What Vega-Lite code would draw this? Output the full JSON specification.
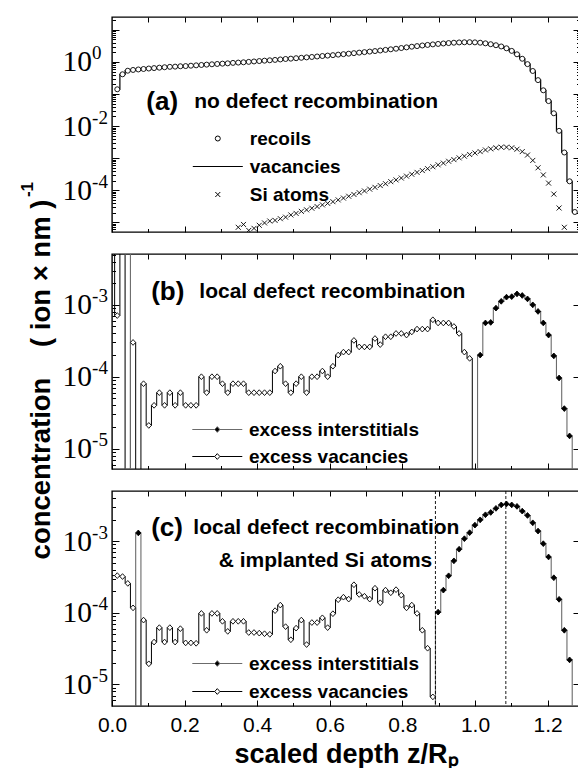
{
  "$schema": "https://vega.github.io/schema/vega-lite/v6.json",
  "background": "white",
  "padding": {"left": 18, "top": 14, "right": 0, "bottom": 0},
  "spacing": 22,
  "bounds": "flush",
  "config": {
    "view": {"stroke": "black", "strokeWidth": 1.4},
    "axis": {"domain": false, "grid": false, "tickColor": "black", "tickWidth": 1, "labelColor": "black", "titleColor": "black", "labelFlush": false, "labelOverlap": false},
    "legend": {"labelLimit": 400}
  },
  "datasets": {
    "a": [
      {"z": 0.0145, "recoils": 0.14},
      {"z": 0.0290, "recoils": 0.41},
      {"z": 0.0435, "recoils": 0.53},
      {"z": 0.0580, "recoils": 0.56},
      {"z": 0.0725, "recoils": 0.58},
      {"z": 0.0869, "recoils": 0.60},
      {"z": 0.1014, "recoils": 0.62},
      {"z": 0.1159, "recoils": 0.64},
      {"z": 0.1304, "recoils": 0.66},
      {"z": 0.1449, "recoils": 0.68},
      {"z": 0.1594, "recoils": 0.70},
      {"z": 0.1739, "recoils": 0.71},
      {"z": 0.1884, "recoils": 0.73},
      {"z": 0.2029, "recoils": 0.74},
      {"z": 0.2174, "recoils": 0.76},
      {"z": 0.2318, "recoils": 0.78},
      {"z": 0.2463, "recoils": 0.80},
      {"z": 0.2608, "recoils": 0.82},
      {"z": 0.2753, "recoils": 0.84},
      {"z": 0.2898, "recoils": 0.86},
      {"z": 0.3043, "recoils": 0.88},
      {"z": 0.3188, "recoils": 0.90},
      {"z": 0.3333, "recoils": 0.93},
      {"z": 0.3478, "recoils": 0.95, "Si atoms": 7.0e-6},
      {"z": 0.3623, "recoils": 0.97, "Si atoms": 8.6e-6},
      {"z": 0.3767, "recoils": 1.00, "Si atoms": 5.6e-6},
      {"z": 0.3912, "recoils": 1.03, "Si atoms": 6.5e-6},
      {"z": 0.4057, "recoils": 1.06, "Si atoms": 8.1e-6},
      {"z": 0.4202, "recoils": 1.09, "Si atoms": 9.6e-6},
      {"z": 0.4347, "recoils": 1.12, "Si atoms": 1.1e-5},
      {"z": 0.4492, "recoils": 1.15, "Si atoms": 1.15e-5},
      {"z": 0.4637, "recoils": 1.19, "Si atoms": 1.3e-5},
      {"z": 0.4782, "recoils": 1.23, "Si atoms": 1.45e-5},
      {"z": 0.4927, "recoils": 1.26, "Si atoms": 1.7e-5},
      {"z": 0.5072, "recoils": 1.30, "Si atoms": 1.9e-5},
      {"z": 0.5216, "recoils": 1.34, "Si atoms": 2.2e-5},
      {"z": 0.5361, "recoils": 1.38, "Si atoms": 2.45e-5},
      {"z": 0.5506, "recoils": 1.42, "Si atoms": 2.75e-5},
      {"z": 0.5651, "recoils": 1.47, "Si atoms": 3.1e-5},
      {"z": 0.5796, "recoils": 1.52, "Si atoms": 3.5e-5},
      {"z": 0.5941, "recoils": 1.57, "Si atoms": 3.9e-5},
      {"z": 0.6086, "recoils": 1.62, "Si atoms": 4.4e-5},
      {"z": 0.6231, "recoils": 1.68, "Si atoms": 5.0e-5},
      {"z": 0.6376, "recoils": 1.74, "Si atoms": 5.7e-5},
      {"z": 0.6521, "recoils": 1.80, "Si atoms": 6.5e-5},
      {"z": 0.6665, "recoils": 1.87, "Si atoms": 7.4e-5},
      {"z": 0.6810, "recoils": 1.94, "Si atoms": 8.4e-5},
      {"z": 0.6955, "recoils": 2.01, "Si atoms": 9.5e-5},
      {"z": 0.7100, "recoils": 2.09, "Si atoms": 1.08e-4},
      {"z": 0.7245, "recoils": 2.17, "Si atoms": 1.23e-4},
      {"z": 0.7390, "recoils": 2.26, "Si atoms": 1.4e-4},
      {"z": 0.7535, "recoils": 2.36, "Si atoms": 1.6e-4},
      {"z": 0.7680, "recoils": 2.46, "Si atoms": 1.85e-4},
      {"z": 0.7825, "recoils": 2.57, "Si atoms": 2.1e-4},
      {"z": 0.7970, "recoils": 2.70, "Si atoms": 2.4e-4},
      {"z": 0.8114, "recoils": 2.83, "Si atoms": 2.75e-4},
      {"z": 0.8259, "recoils": 2.97, "Si atoms": 3.15e-4},
      {"z": 0.8404, "recoils": 3.10, "Si atoms": 3.6e-4},
      {"z": 0.8549, "recoils": 3.24, "Si atoms": 4.1e-4},
      {"z": 0.8694, "recoils": 3.37, "Si atoms": 4.7e-4},
      {"z": 0.8839, "recoils": 3.50, "Si atoms": 5.4e-4},
      {"z": 0.8984, "recoils": 3.62, "Si atoms": 6.2e-4},
      {"z": 0.9129, "recoils": 3.74, "Si atoms": 7.0e-4},
      {"z": 0.9274, "recoils": 3.85, "Si atoms": 8.0e-4},
      {"z": 0.9419, "recoils": 3.95, "Si atoms": 9.0e-4},
      {"z": 0.9563, "recoils": 4.03, "Si atoms": 1.02e-3},
      {"z": 0.9708, "recoils": 4.08, "Si atoms": 1.15e-3},
      {"z": 0.9853, "recoils": 4.10, "Si atoms": 1.3e-3},
      {"z": 0.9998, "recoils": 4.05, "Si atoms": 1.45e-3},
      {"z": 1.0143, "recoils": 3.95, "Si atoms": 1.6e-3},
      {"z": 1.0288, "recoils": 3.78, "Si atoms": 1.8e-3},
      {"z": 1.0433, "recoils": 3.55, "Si atoms": 1.95e-3},
      {"z": 1.0578, "recoils": 3.30, "Si atoms": 2.1e-3},
      {"z": 1.0723, "recoils": 3.02, "Si atoms": 2.2e-3},
      {"z": 1.0868, "recoils": 2.65, "Si atoms": 2.2e-3},
      {"z": 1.1012, "recoils": 2.20, "Si atoms": 2.1e-3},
      {"z": 1.1157, "recoils": 1.72, "Si atoms": 1.9e-3},
      {"z": 1.1302, "recoils": 1.25, "Si atoms": 1.6e-3},
      {"z": 1.1447, "recoils": 0.85, "Si atoms": 1.25e-3},
      {"z": 1.1592, "recoils": 0.52, "Si atoms": 8.5e-4},
      {"z": 1.1737, "recoils": 0.27, "Si atoms": 5.0e-4},
      {"z": 1.1882, "recoils": 0.13, "Si atoms": 3.0e-4},
      {"z": 1.2027, "recoils": 0.060, "Si atoms": 1.67e-4},
      {"z": 1.2172, "recoils": 0.025, "Si atoms": 7.6e-5},
      {"z": 1.2317, "recoils": 0.0071, "Si atoms": 2.8e-5},
      {"z": 1.2461, "recoils": 0.0015, "Si atoms": 7.0e-6},
      {"z": 1.2606, "recoils": 0.00019},
      {"z": 1.2751, "recoils": 0.000021}
    ],
    "b": [
      {"z": 0.0000, "excess vacancies": 1},
      {"z": 0.0145, "excess vacancies": 7.1e-4},
      {"z": 0.0290, "excess vacancies": 1, "excess interstitials": 1e-9},
      {"z": 0.0435, "excess vacancies": 1e-9, "excess interstitials": 1},
      {"z": 0.0580, "excess vacancies": 3.0e-4, "excess interstitials": 1e-9},
      {"z": 0.0725, "excess vacancies": 1e-9},
      {"z": 0.0869, "excess vacancies": 8.0e-5},
      {"z": 0.1014, "excess vacancies": 2.1e-5},
      {"z": 0.1159, "excess vacancies": 4.0e-5},
      {"z": 0.1304, "excess vacancies": 6.0e-5},
      {"z": 0.1449, "excess vacancies": 4.0e-5},
      {"z": 0.1594, "excess vacancies": 6.0e-5},
      {"z": 0.1739, "excess vacancies": 4.0e-5},
      {"z": 0.1884, "excess vacancies": 6.0e-5},
      {"z": 0.2029, "excess vacancies": 4.0e-5},
      {"z": 0.2174, "excess vacancies": 4.0e-5},
      {"z": 0.2318, "excess vacancies": 4.0e-5},
      {"z": 0.2463, "excess vacancies": 1.0e-4},
      {"z": 0.2608, "excess vacancies": 6.0e-5},
      {"z": 0.2753, "excess vacancies": 1.0e-4},
      {"z": 0.2898, "excess vacancies": 1.0e-4},
      {"z": 0.3043, "excess vacancies": 8.0e-5},
      {"z": 0.3188, "excess vacancies": 6.0e-5},
      {"z": 0.3333, "excess vacancies": 8.0e-5},
      {"z": 0.3478, "excess vacancies": 8.0e-5},
      {"z": 0.3623, "excess vacancies": 8.0e-5},
      {"z": 0.3767, "excess vacancies": 6.0e-5},
      {"z": 0.3912, "excess vacancies": 6.0e-5},
      {"z": 0.4057, "excess vacancies": 6.0e-5},
      {"z": 0.4202, "excess vacancies": 6.0e-5},
      {"z": 0.4347, "excess vacancies": 6.0e-5},
      {"z": 0.4492, "excess vacancies": 1.2e-4},
      {"z": 0.4637, "excess vacancies": 1.4e-4},
      {"z": 0.4782, "excess vacancies": 8.0e-5},
      {"z": 0.4927, "excess vacancies": 6.0e-5},
      {"z": 0.5072, "excess vacancies": 8.0e-5},
      {"z": 0.5216, "excess vacancies": 1.0e-4},
      {"z": 0.5361, "excess vacancies": 6.0e-5},
      {"z": 0.5506, "excess vacancies": 1.0e-4},
      {"z": 0.5651, "excess vacancies": 1.0e-4},
      {"z": 0.5796, "excess vacancies": 1.2e-4},
      {"z": 0.5941, "excess vacancies": 1.0e-4},
      {"z": 0.6086, "excess vacancies": 1.4e-4},
      {"z": 0.6231, "excess vacancies": 2.0e-4},
      {"z": 0.6376, "excess vacancies": 2.2e-4},
      {"z": 0.6521, "excess vacancies": 2.2e-4},
      {"z": 0.6665, "excess vacancies": 3.2e-4},
      {"z": 0.6810, "excess vacancies": 2.6e-4},
      {"z": 0.6955, "excess vacancies": 2.6e-4},
      {"z": 0.7100, "excess vacancies": 2.6e-4},
      {"z": 0.7245, "excess vacancies": 3.4e-4},
      {"z": 0.7390, "excess vacancies": 2.8e-4},
      {"z": 0.7535, "excess vacancies": 3.6e-4},
      {"z": 0.7680, "excess vacancies": 3.6e-4},
      {"z": 0.7825, "excess vacancies": 4.0e-4},
      {"z": 0.7970, "excess vacancies": 4.0e-4},
      {"z": 0.8114, "excess vacancies": 3.8e-4},
      {"z": 0.8259, "excess vacancies": 4.2e-4},
      {"z": 0.8404, "excess vacancies": 4.6e-4},
      {"z": 0.8549, "excess vacancies": 4.6e-4},
      {"z": 0.8694, "excess vacancies": 4.6e-4},
      {"z": 0.8839, "excess vacancies": 6.2e-4},
      {"z": 0.8984, "excess vacancies": 5.6e-4},
      {"z": 0.9129, "excess vacancies": 5.6e-4},
      {"z": 0.9274, "excess vacancies": 5.6e-4},
      {"z": 0.9419, "excess vacancies": 5.0e-4},
      {"z": 0.9563, "excess vacancies": 4.0e-4},
      {"z": 0.9708, "excess vacancies": 2.2e-4},
      {"z": 0.9853, "excess vacancies": 1.8e-4},
      {"z": 0.9998, "excess vacancies": 1e-9, "excess interstitials": 1e-9},
      {"z": 1.0143, "excess interstitials": 2.0e-4},
      {"z": 1.0288, "excess interstitials": 5.6e-4},
      {"z": 1.0433, "excess interstitials": 5.7e-4},
      {"z": 1.0578, "excess interstitials": 9.0e-4},
      {"z": 1.0723, "excess interstitials": 1.12e-3},
      {"z": 1.0868, "excess interstitials": 1.28e-3},
      {"z": 1.1012, "excess interstitials": 1.30e-3},
      {"z": 1.1157, "excess interstitials": 1.42e-3},
      {"z": 1.1302, "excess interstitials": 1.35e-3},
      {"z": 1.1447, "excess interstitials": 1.21e-3},
      {"z": 1.1592, "excess interstitials": 1.0e-3},
      {"z": 1.1737, "excess interstitials": 8.1e-4},
      {"z": 1.1882, "excess interstitials": 5.6e-4},
      {"z": 1.2027, "excess interstitials": 3.8e-4},
      {"z": 1.2172, "excess interstitials": 1.95e-4},
      {"z": 1.2317, "excess interstitials": 9.6e-5},
      {"z": 1.2461, "excess interstitials": 3.6e-5},
      {"z": 1.2606, "excess interstitials": 1.5e-5},
      {"z": 1.2751, "excess interstitials": 1e-9}
    ],
    "c": [
      {"z": 0.0000, "excess vacancies": 3.3e-4},
      {"z": 0.0145, "excess vacancies": 3.3e-4},
      {"z": 0.0290, "excess vacancies": 3.2e-4},
      {"z": 0.0435, "excess vacancies": 2.57e-4},
      {"z": 0.0580, "excess vacancies": 1.17e-4, "excess interstitials": 1e-9},
      {"z": 0.0725, "excess vacancies": 1e-9, "excess interstitials": 1.3e-3},
      {"z": 0.0869, "excess vacancies": 7.9e-5, "excess interstitials": 1e-9},
      {"z": 0.1014, "excess vacancies": 1.94e-5},
      {"z": 0.1159, "excess vacancies": 3.9e-5},
      {"z": 0.1304, "excess vacancies": 6.2e-5},
      {"z": 0.1449, "excess vacancies": 3.9e-5},
      {"z": 0.1594, "excess vacancies": 6.2e-5},
      {"z": 0.1739, "excess vacancies": 3.9e-5},
      {"z": 0.1884, "excess vacancies": 6.0e-5},
      {"z": 0.2029, "excess vacancies": 3.8e-5},
      {"z": 0.2174, "excess vacancies": 3.8e-5},
      {"z": 0.2318, "excess vacancies": 3.75e-5},
      {"z": 0.2463, "excess vacancies": 9.8e-5},
      {"z": 0.2608, "excess vacancies": 5.7e-5},
      {"z": 0.2753, "excess vacancies": 9.8e-5},
      {"z": 0.2898, "excess vacancies": 9.8e-5},
      {"z": 0.3043, "excess vacancies": 7.6e-5},
      {"z": 0.3188, "excess vacancies": 5.5e-5},
      {"z": 0.3333, "excess vacancies": 7.6e-5},
      {"z": 0.3478, "excess vacancies": 7.6e-5},
      {"z": 0.3623, "excess vacancies": 7.6e-5},
      {"z": 0.3767, "excess vacancies": 5.3e-5},
      {"z": 0.3912, "excess vacancies": 5.3e-5},
      {"z": 0.4057, "excess vacancies": 5.2e-5},
      {"z": 0.4202, "excess vacancies": 5.1e-5},
      {"z": 0.4347, "excess vacancies": 5.0e-5},
      {"z": 0.4492, "excess vacancies": 1.07e-4},
      {"z": 0.4637, "excess vacancies": 1.28e-4},
      {"z": 0.4782, "excess vacancies": 6.4e-5},
      {"z": 0.4927, "excess vacancies": 4.2e-5},
      {"z": 0.5072, "excess vacancies": 6.1e-5},
      {"z": 0.5216, "excess vacancies": 7.9e-5},
      {"z": 0.5361, "excess vacancies": 3.6e-5},
      {"z": 0.5506, "excess vacancies": 7.3e-5},
      {"z": 0.5651, "excess vacancies": 7.3e-5},
      {"z": 0.5796, "excess vacancies": 8.5e-5},
      {"z": 0.5941, "excess vacancies": 6.2e-5},
      {"z": 0.6086, "excess vacancies": 9.7e-5},
      {"z": 0.6231, "excess vacancies": 1.52e-4},
      {"z": 0.6376, "excess vacancies": 1.65e-4},
      {"z": 0.6521, "excess vacancies": 1.55e-4},
      {"z": 0.6665, "excess vacancies": 2.46e-4},
      {"z": 0.6810, "excess vacancies": 1.8e-4},
      {"z": 0.6955, "excess vacancies": 1.7e-4},
      {"z": 0.7100, "excess vacancies": 1.55e-4},
      {"z": 0.7245, "excess vacancies": 2.2e-4},
      {"z": 0.7390, "excess vacancies": 1.38e-4},
      {"z": 0.7535, "excess vacancies": 2.07e-4},
      {"z": 0.7680, "excess vacancies": 1.9e-4},
      {"z": 0.7825, "excess vacancies": 2.1e-4},
      {"z": 0.7970, "excess vacancies": 1.76e-4},
      {"z": 0.8114, "excess vacancies": 1.17e-4},
      {"z": 0.8259, "excess vacancies": 1.28e-4},
      {"z": 0.8404, "excess vacancies": 9.8e-5},
      {"z": 0.8549, "excess vacancies": 5.7e-5},
      {"z": 0.8694, "excess vacancies": 3.2e-5},
      {"z": 0.8839, "excess vacancies": 6.7e-6, "excess interstitials": 1e-9},
      {"z": 0.8984, "excess vacancies": 1e-9, "excess interstitials": 1.02e-4},
      {"z": 0.9129, "excess interstitials": 2.07e-4},
      {"z": 0.9274, "excess interstitials": 3.28e-4},
      {"z": 0.9419, "excess interstitials": 5.3e-4},
      {"z": 0.9563, "excess interstitials": 7.7e-4},
      {"z": 0.9708, "excess interstitials": 1.08e-3},
      {"z": 0.9853, "excess interstitials": 1.31e-3},
      {"z": 0.9998, "excess interstitials": 1.67e-3},
      {"z": 1.0143, "excess interstitials": 1.98e-3},
      {"z": 1.0288, "excess interstitials": 2.33e-3},
      {"z": 1.0433, "excess interstitials": 2.51e-3},
      {"z": 1.0578, "excess interstitials": 2.86e-3},
      {"z": 1.0723, "excess interstitials": 3.2e-3},
      {"z": 1.0868, "excess interstitials": 3.3e-3},
      {"z": 1.1012, "excess interstitials": 3.2e-3},
      {"z": 1.1157, "excess interstitials": 3.05e-3},
      {"z": 1.1302, "excess interstitials": 2.62e-3},
      {"z": 1.1447, "excess interstitials": 2.28e-3},
      {"z": 1.1592, "excess interstitials": 1.8e-3},
      {"z": 1.1737, "excess interstitials": 1.38e-3},
      {"z": 1.1882, "excess interstitials": 9.2e-4},
      {"z": 1.2027, "excess interstitials": 6.0e-4},
      {"z": 1.2172, "excess interstitials": 3.08e-4},
      {"z": 1.2317, "excess interstitials": 1.54e-4},
      {"z": 1.2461, "excess interstitials": 5.7e-5},
      {"z": 1.2606, "excess interstitials": 2.2e-5},
      {"z": 1.2751, "excess interstitials": 1e-9}
    ],
    "depths": [
      {"z": 0.891, "what": "crossover"},
      {"z": 1.085, "what": "interstitial peak"}
    ]
  },
  "resolve": {
    "scale": {"y": "independent", "shape": "independent", "fill": "independent", "stroke": "independent"},
    "legend": {"shape": "independent", "fill": "independent", "stroke": "independent"}
  },
  "vconcat": [
    {
      "width": 468,
      "height": 215,
      "layer": [
        {
          "data": {"name": "a"},
          "mark": {"type": "line", "interpolate": "step", "color": "black", "strokeWidth": 1.2, "clip": true},
          "encoding": {
            "x": {"field": "z", "type": "quantitative", "scale": {"domain": [0, 1.2893], "nice": false, "zero": false},
                  "axis": {"orient": "bottom", "values": [0, 0.2, 0.4, 0.6, 0.8, 1.0, 1.2], "tickSize": -6, "labels": false, "title": null}},
            "y": {"field": "recoils", "type": "quantitative", "scale": {"type": "log", "domain": [5e-6, 25], "nice": false},
                  "axis": {"orient": "left", "values": [1e-5, 1e-4, 1e-3, 0.01, 0.1, 1, 10], "tickSize": -7, "title": null,
                           "labelExpr": "datum.value == 1 || datum.value == 0.01 || datum.value == 0.0001 ? '10' : ''",
                           "labelFont": "Liberation Serif", "labelFontSize": 29.5, "labelPadding": 27.4}}
          }
        },
        {
          "data": {"name": "a"},
          "transform": [{"fold": ["recoils"], "as": ["series", "v"]}],
          "mark": {"type": "point", "filled": true, "fill": "white", "stroke": "black", "strokeWidth": 0.9, "size": 25, "opacity": 1, "clip": true},
          "encoding": {
            "x": {"field": "z", "type": "quantitative", "scale": {"domain": [0, 1.2893], "nice": false, "zero": false},
                  "axis": {"orient": "bottom", "values": [0.1, 0.3, 0.5, 0.7, 0.9, 1.1], "tickSize": -3.5, "labels": false, "title": null}},
            "y": {"field": "v", "type": "quantitative", "scale": {"type": "log", "domain": [5e-6, 25], "nice": false},
                  "axis": {"orient": "left", "labels": false, "tickSize": -3.5,
                           "values": [6e-6, 7e-6, 8e-6, 9e-6, 2e-5, 3e-5, 4e-5, 5e-5, 6e-5, 7e-5, 8e-5, 9e-5, 2e-4, 3e-4, 4e-4, 5e-4, 6e-4, 7e-4, 8e-4, 9e-4, 0.002, 0.003, 0.004, 0.005, 0.006, 0.007, 0.008, 0.009, 0.02, 0.03, 0.04, 0.05, 0.06, 0.07, 0.08, 0.09, 0.2, 0.3, 0.4, 0.5, 0.6, 0.7, 0.8, 0.9, 2, 3, 4, 5, 6, 7, 8, 9, 20],
                           "title": "-1", "titleFont": "Liberation Sans", "titleFontWeight": "bold", "titleFontSize": 17,
                           "titleAngle": 270, "titleX": -84.2, "titleY": 172, "titleAlign": "center", "titleBaseline": "middle"}},
            "shape": {"field": "series", "type": "nominal",
                      "scale": {"domain": ["recoils", "vacancies", "Si atoms"], "range": ["circle", "M-10,0L10,0", "M-1,-1L1,1M-1,1L1,-1"]},
                      "legend": {"orient": "none", "legendX": 96.3, "legendY": 112, "title": null, "padding": 0,
                                 "labelFont": "Liberation Sans", "labelFontWeight": "bold", "labelFontSize": 19, "labelColor": "black",
                                 "symbolSize": 25, "symbolStrokeWidth": 1, "labelOffset": 22.5, "rowPadding": 8,
                                 "encode": {"symbols": {"update": {"fill": {"value": "white"}, "stroke": {"value": "black"}, "strokeWidth": {"value": 1}, "opacity": {"value": 1}}}}}}
          }
        },
        {
          "data": {"name": "a"},
          "transform": [{"fold": ["Si atoms"], "as": ["series", "v"]}, {"filter": "isValid(datum.v)"}],
          "mark": {"type": "point", "filled": true, "fill": "white", "stroke": "black", "strokeWidth": 0.9, "size": 25, "opacity": 1, "clip": true},
          "encoding": {
            "x": {"field": "z", "type": "quantitative", "scale": {"domain": [0, 1.2893], "nice": false, "zero": false},
                  "axis": {"orient": "top", "values": [0.1, 0.2, 0.3, 0.4, 0.5, 0.6, 0.7, 0.8, 0.9, 1.0, 1.1, 1.2], "tickSize": -5, "labels": false, "title": null}},
            "y": {"field": "v", "type": "quantitative", "scale": {"type": "log", "domain": [5e-6, 25], "nice": false},
                  "axis": {"orient": "right", "values": [1e-5, 1e-4, 1e-3, 0.01, 0.1, 1, 10], "tickSize": -7, "labels": false, "title": null}},
            "shape": {"field": "series", "type": "nominal",
                      "scale": {"domain": ["recoils", "vacancies", "Si atoms"], "range": ["circle", "M-10,0L10,0", "M-1,-1L1,1M-1,1L1,-1"]},
                      "legend": {"orient": "none", "legendX": 96.3, "legendY": 112, "title": null, "padding": 0,
                                 "labelFont": "Liberation Sans", "labelFontWeight": "bold", "labelFontSize": 19, "labelColor": "black",
                                 "symbolSize": 25, "symbolStrokeWidth": 1, "labelOffset": 22.5, "rowPadding": 8,
                                 "encode": {"symbols": {"update": {"fill": {"value": "white"}, "stroke": {"value": "black"}, "strokeWidth": {"value": 1}, "opacity": {"value": 1}}}}}}
          }
        },
        {
          "data": {"values": [{}]},
          "mark": {"type": "text", "text": "(a)", "align": "left", "baseline": "middle", "font": "Liberation Sans", "fontWeight": "bold", "fontSize": 26, "color": "black"},
          "encoding": {
            "x": {"datum": 0.0945, "type": "quantitative", "axis": null},
            "y": {"datum": 0.0573, "type": "quantitative",
                  "axis": {"orient": "right", "labels": false, "title": null, "tickSize": -3.5,
                           "values": [6e-6, 7e-6, 8e-6, 9e-6, 2e-5, 3e-5, 4e-5, 5e-5, 6e-5, 7e-5, 8e-5, 9e-5, 2e-4, 3e-4, 4e-4, 5e-4, 6e-4, 7e-4, 8e-4, 9e-4, 0.002, 0.003, 0.004, 0.005, 0.006, 0.007, 0.008, 0.009, 0.02, 0.03, 0.04, 0.05, 0.06, 0.07, 0.08, 0.09, 0.2, 0.3, 0.4, 0.5, 0.6, 0.7, 0.8, 0.9, 2, 3, 4, 5, 6, 7, 8, 9, 20]}}
          }
        },
        {
          "data": {"values": [{}]},
          "mark": {"type": "text", "text": "no defect recombination", "align": "left", "baseline": "middle", "font": "Liberation Sans", "fontWeight": "bold", "fontSize": 21, "color": "black"},
          "encoding": {
            "x": {"datum": 0.2267, "type": "quantitative", "axis": null},
            "y": {"datum": 0.0573, "type": "quantitative",
                  "axis": {"orient": "left", "values": [1, 0.01, 0.0001], "tickSize": 0, "title": null,
                           "labelExpr": "datum.value == 1 ? '0' : datum.value == 0.01 ? '-2' : '-4'",
                           "labelFont": "Liberation Serif", "labelFontSize": 19, "labelAlign": "left", "labelPadding": 20.4, "labelOffset": -9}}
          }
        }
      ],
      "resolve": {"axis": {"x": "independent", "y": "independent"}}
    },
    {
      "width": 468,
      "height": 215,
      "layer": [
        {
          "data": {"name": "b"},
          "transform": [{"fold": ["excess vacancies"], "as": ["series", "v"]}, {"filter": "isValid(datum.v)"}],
          "mark": {"type": "line", "interpolate": "step", "strokeWidth": 1, "clip": true},
          "encoding": {
            "x": {"field": "z", "type": "quantitative", "scale": {"domain": [0, 1.2893], "nice": false, "zero": false},
                  "axis": {"orient": "bottom", "values": [0, 0.2, 0.4, 0.6, 0.8, 1.0, 1.2], "tickSize": -6, "labels": false, "title": null}},
            "y": {"field": "v", "type": "quantitative", "scale": {"type": "log", "domain": [5.2e-6, 5.1e-3], "nice": false},
                  "axis": {"orient": "left", "values": [1e-5, 1e-4, 1e-3], "tickSize": -7, "labelExpr": "'10'",
                           "labelFont": "Liberation Serif", "labelFontSize": 29.5, "labelPadding": 27.4,
                           "title": "concentration\u00a0\u00a0\u00a0\u00a0(\u00a0ion\u00a0×\u00a0nm\u00a0)", "titleFont": "Liberation Sans", "titleFontWeight": "bold", "titleFontSize": 27.5,
                           "titleAngle": 270, "titleX": -71, "titleY": 125, "titleAlign": "center", "titleBaseline": "middle"}},
            "stroke": {"field": "series", "type": "nominal",
                       "scale": {"domain": ["excess interstitials", "excess vacancies"], "range": ["#6b6b6b", "black"]},
                       "legend": {"orient": "none", "legendX": 95.8, "legendY": 166, "title": null, "padding": 0,
                                  "symbolType": "M-8.7,0L-0.9,0M0.9,0L8.7,0M-0.9,0L0,-1L0.9,0L0,1Z", "symbolSize": 33, "symbolStrokeWidth": 1,
                                  "labelFont": "Liberation Sans", "labelFontWeight": "bold", "labelFontSize": 19, "labelColor": "black",
                                  "labelOffset": 22.1, "rowPadding": 7}}
          }
        },
        {
          "data": {"name": "b"},
          "transform": [{"fold": ["excess interstitials"], "as": ["series", "v"]}, {"filter": "isValid(datum.v)"}],
          "mark": {"type": "line", "interpolate": "step", "strokeWidth": 1.1, "clip": true},
          "encoding": {
            "x": {"field": "z", "type": "quantitative", "scale": {"domain": [0, 1.2893], "nice": false, "zero": false},
                  "axis": {"orient": "bottom", "values": [0.1, 0.3, 0.5, 0.7, 0.9, 1.1], "tickSize": -3.5, "labels": false, "title": null}},
            "y": {"field": "v", "type": "quantitative", "scale": {"type": "log", "domain": [5.2e-6, 5.1e-3], "nice": false},
                  "axis": {"orient": "left", "labels": false, "title": null, "tickSize": -3.5,
                           "values": [6e-6, 7e-6, 8e-6, 9e-6, 2e-5, 3e-5, 4e-5, 5e-5, 6e-5, 7e-5, 8e-5, 9e-5, 2e-4, 3e-4, 4e-4, 5e-4, 6e-4, 7e-4, 8e-4, 9e-4, 0.002, 0.003, 0.004, 0.005]}},
            "stroke": {"field": "series", "type": "nominal",
                       "scale": {"domain": ["excess interstitials", "excess vacancies"], "range": ["#6b6b6b", "black"]},
                       "legend": {"orient": "none", "legendX": 95.8, "legendY": 166, "title": null, "padding": 0,
                                  "symbolType": "M-8.7,0L-0.9,0M0.9,0L8.7,0M-0.9,0L0,-1L0.9,0L0,1Z", "symbolSize": 33, "symbolStrokeWidth": 1,
                                  "labelFont": "Liberation Sans", "labelFontWeight": "bold", "labelFontSize": 19, "labelColor": "black",
                                  "labelOffset": 22.1, "rowPadding": 7}}
          }
        },
        {
          "data": {"name": "b"},
          "transform": [{"fold": ["excess interstitials", "excess vacancies"], "as": ["series", "v"]}, {"filter": "isValid(datum.v) && datum.z > 0"}],
          "mark": {"type": "point", "shape": "M-0.9,0L0,-1L0.9,0L0,1Z", "filled": true, "stroke": "black", "strokeWidth": 0.9, "size": 33, "opacity": 1, "clip": true},
          "encoding": {
            "x": {"field": "z", "type": "quantitative", "scale": {"domain": [0, 1.2893], "nice": false, "zero": false},
                  "axis": {"orient": "top", "values": [0.1, 0.2, 0.3, 0.4, 0.5, 0.6, 0.7, 0.8, 0.9, 1.0, 1.1, 1.2], "tickSize": -5, "labels": false, "title": null}},
            "y": {"field": "v", "type": "quantitative", "scale": {"type": "log", "domain": [5.2e-6, 5.1e-3], "nice": false},
                  "axis": {"orient": "right", "values": [1e-5, 1e-4, 1e-3], "tickSize": -7, "labels": false, "title": null}},
            "fill": {"field": "series", "type": "nominal",
                     "scale": {"domain": ["excess interstitials", "excess vacancies"], "range": ["black", "white"]},
                     "legend": {"orient": "none", "legendX": 95.8, "legendY": 166, "title": null, "padding": 0,
                                "symbolType": "M-8.7,0L-0.9,0M0.9,0L8.7,0M-0.9,0L0,-1L0.9,0L0,1Z", "symbolSize": 33, "symbolStrokeWidth": 1,
                                "labelFont": "Liberation Sans", "labelFontWeight": "bold", "labelFontSize": 19, "labelColor": "black",
                                "labelOffset": 22.1, "rowPadding": 7}}
          }
        },
        {
          "data": {"values": [{}]},
          "mark": {"type": "text", "text": "(b)", "align": "left", "baseline": "middle", "font": "Liberation Sans", "fontWeight": "bold", "fontSize": 26, "color": "black"},
          "encoding": {
            "x": {"datum": 0.108, "type": "quantitative", "axis": null},
            "y": {"datum": 1.53e-3, "type": "quantitative",
                  "axis": {"orient": "left", "values": [1e-5, 1e-4, 1e-3], "tickSize": 0, "title": null,
                           "labelExpr": "datum.value == 0.001 ? '-3' : datum.value == 0.0001 ? '-4' : '-5'",
                           "labelFont": "Liberation Serif", "labelFontSize": 19, "labelAlign": "left", "labelPadding": 20.4, "labelOffset": -9}}
          }
        },
        {
          "data": {"values": [{}]},
          "mark": {"type": "text", "text": "local defect recombination", "align": "left", "baseline": "middle", "font": "Liberation Sans", "fontWeight": "bold", "fontSize": 21, "color": "black"},
          "encoding": {
            "x": {"datum": 0.2405, "type": "quantitative", "axis": null},
            "y": {"datum": 1.53e-3, "type": "quantitative", "axis": null}
          }
        }
      ],
      "resolve": {"axis": {"x": "independent", "y": "independent"}}
    },
    {
      "width": 468,
      "height": 215,
      "layer": [
        {
          "data": {"name": "c"},
          "transform": [{"fold": ["excess vacancies"], "as": ["series", "v"]}, {"filter": "isValid(datum.v)"}],
          "mark": {"type": "line", "interpolate": "step", "strokeWidth": 1, "clip": true},
          "encoding": {
            "x": {"field": "z", "type": "quantitative", "scale": {"domain": [0, 1.2893], "nice": false, "zero": false},
                  "axis": {"orient": "bottom", "values": [0, 0.2, 0.4, 0.6, 0.8, 1.0, 1.2], "tickSize": -6, "format": ".1f",
                           "labelFont": "Liberation Sans", "labelFontSize": 21, "labelPadding": 14,
                           "title": "scaled depth z/Rₚ", "titleFont": "Liberation Sans", "titleFontWeight": "bold", "titleFontSize": 27, "titlePadding": 6}},
            "y": {"field": "v", "type": "quantitative", "scale": {"type": "log", "domain": [5e-6, 5e-3], "nice": false},
                  "axis": {"orient": "left", "values": [1e-5, 1e-4, 1e-3], "tickSize": -7, "title": null, "labelExpr": "'10'",
                           "labelFont": "Liberation Serif", "labelFontSize": 29.5, "labelPadding": 27.4}},
            "stroke": {"field": "series", "type": "nominal",
                       "scale": {"domain": ["excess interstitials", "excess vacancies"], "range": ["#6b6b6b", "black"]},
                       "legend": {"orient": "none", "legendX": 95.8, "legendY": 163, "title": null, "padding": 0,
                                  "symbolType": "M-8.7,0L-0.9,0M0.9,0L8.7,0M-0.9,0L0,-1L0.9,0L0,1Z", "symbolSize": 33, "symbolStrokeWidth": 1,
                                  "labelFont": "Liberation Sans", "labelFontWeight": "bold", "labelFontSize": 19, "labelColor": "black",
                                  "labelOffset": 22.1, "rowPadding": 8}}
          }
        },
        {
          "data": {"name": "c"},
          "transform": [{"fold": ["excess interstitials"], "as": ["series", "v"]}, {"filter": "isValid(datum.v)"}],
          "mark": {"type": "line", "interpolate": "step", "strokeWidth": 1.1, "clip": true},
          "encoding": {
            "x": {"field": "z", "type": "quantitative", "scale": {"domain": [0, 1.2893], "nice": false, "zero": false},
                  "axis": {"orient": "bottom", "values": [0.1, 0.3, 0.5, 0.7, 0.9, 1.1], "tickSize": -3.5, "labels": false, "title": null}},
            "y": {"field": "v", "type": "quantitative", "scale": {"type": "log", "domain": [5e-6, 5e-3], "nice": false},
                  "axis": {"orient": "left", "labels": false, "title": null, "tickSize": -3.5,
                           "values": [6e-6, 7e-6, 8e-6, 9e-6, 2e-5, 3e-5, 4e-5, 5e-5, 6e-5, 7e-5, 8e-5, 9e-5, 2e-4, 3e-4, 4e-4, 5e-4, 6e-4, 7e-4, 8e-4, 9e-4, 0.002, 0.003, 0.004]}},
            "stroke": {"field": "series", "type": "nominal",
                       "scale": {"domain": ["excess interstitials", "excess vacancies"], "range": ["#6b6b6b", "black"]},
                       "legend": {"orient": "none", "legendX": 95.8, "legendY": 163, "title": null, "padding": 0,
                                  "symbolType": "M-8.7,0L-0.9,0M0.9,0L8.7,0M-0.9,0L0,-1L0.9,0L0,1Z", "symbolSize": 33, "symbolStrokeWidth": 1,
                                  "labelFont": "Liberation Sans", "labelFontWeight": "bold", "labelFontSize": 19, "labelColor": "black",
                                  "labelOffset": 22.1, "rowPadding": 8}}
          }
        },
        {
          "data": {"name": "depths"},
          "mark": {"type": "rule", "color": "black", "strokeWidth": 0.9, "strokeDash": [3, 2]},
          "encoding": {
            "x": {"field": "z", "type": "quantitative", "axis": null}
          }
        },
        {
          "data": {"name": "c"},
          "transform": [{"fold": ["excess interstitials", "excess vacancies"], "as": ["series", "v"]}, {"filter": "isValid(datum.v) && datum.z > 0"}],
          "mark": {"type": "point", "shape": "M-0.9,0L0,-1L0.9,0L0,1Z", "filled": true, "stroke": "black", "strokeWidth": 0.9, "size": 33, "opacity": 1, "clip": true},
          "encoding": {
            "x": {"field": "z", "type": "quantitative", "scale": {"domain": [0, 1.2893], "nice": false, "zero": false},
                  "axis": {"orient": "top", "values": [0.1, 0.2, 0.3, 0.4, 0.5, 0.6, 0.7, 0.8, 0.9, 1.0, 1.1, 1.2], "tickSize": -5, "labels": false, "title": null}},
            "y": {"field": "v", "type": "quantitative", "scale": {"type": "log", "domain": [5e-6, 5e-3], "nice": false},
                  "axis": {"orient": "right", "values": [1e-5, 1e-4, 1e-3], "tickSize": -7, "labels": false, "title": null}},
            "fill": {"field": "series", "type": "nominal",
                     "scale": {"domain": ["excess interstitials", "excess vacancies"], "range": ["black", "white"]},
                     "legend": {"orient": "none", "legendX": 95.8, "legendY": 163, "title": null, "padding": 0,
                                "symbolType": "M-8.7,0L-0.9,0M0.9,0L8.7,0M-0.9,0L0,-1L0.9,0L0,1Z", "symbolSize": 33, "symbolStrokeWidth": 1,
                                "labelFont": "Liberation Sans", "labelFontWeight": "bold", "labelFontSize": 19, "labelColor": "black",
                                "labelOffset": 22.1, "rowPadding": 8}}
          }
        },
        {
          "data": {"values": [{}]},
          "mark": {"type": "text", "text": "(c)", "align": "left", "baseline": "middle", "font": "Liberation Sans", "fontWeight": "bold", "fontSize": 26, "color": "black"},
          "encoding": {
            "x": {"datum": 0.108, "type": "quantitative", "axis": null},
            "y": {"datum": 1.5e-3, "type": "quantitative",
                  "axis": {"orient": "left", "values": [1e-5, 1e-4, 1e-3], "tickSize": 0, "title": null,
                           "labelExpr": "datum.value == 0.001 ? '-3' : datum.value == 0.0001 ? '-4' : '-5'",
                           "labelFont": "Liberation Serif", "labelFontSize": 19, "labelAlign": "left", "labelPadding": 20.4, "labelOffset": -9}}
          }
        },
        {
          "data": {"values": [{}]},
          "mark": {"type": "text", "text": "local defect recombination", "align": "left", "baseline": "middle", "font": "Liberation Sans", "fontWeight": "bold", "fontSize": 21, "color": "black"},
          "encoding": {
            "x": {"datum": 0.224, "type": "quantitative", "axis": null},
            "y": {"datum": 1.5e-3, "type": "quantitative", "axis": null}
          }
        },
        {
          "data": {"values": [{}]},
          "mark": {"type": "text", "text": "& implanted Si atoms", "align": "left", "baseline": "middle", "font": "Liberation Sans", "fontWeight": "bold", "fontSize": 21, "color": "black"},
          "encoding": {
            "x": {"datum": 0.294, "type": "quantitative", "axis": null},
            "y": {"datum": 5.33e-4, "type": "quantitative", "axis": null}
          }
        }
      ],
      "resolve": {"axis": {"x": "independent", "y": "independent"}}
    }
  ]
}
